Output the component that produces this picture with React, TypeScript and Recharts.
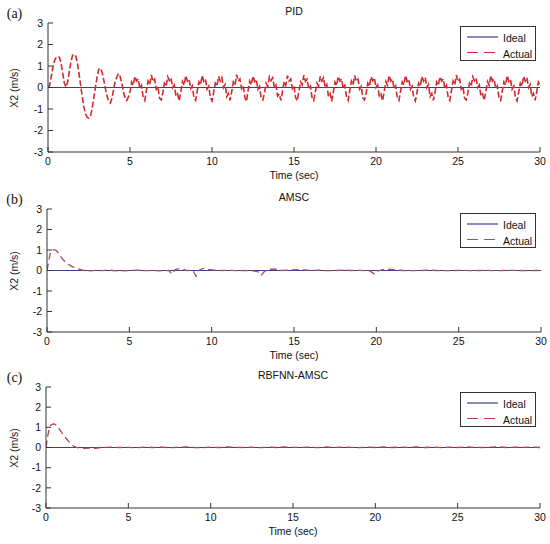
import React from 'react';
import { LineChart, Line, XAxis, YAxis } from 'recharts';

const TIME_TICKS = [0, 5, 10, 15, 20, 25, 30];
const X2_TICKS = [-3, -2, -1, 0, 1, 2, 3];
const STEP = 0.1; // sample spacing of the PID trace (s)

// PID start-up transient, t = 0.0 ... 4.9
const pidStart = [
  0, 0.1, 0.5, 0.95, 1.25, 1.4, 1.45, 1.4, 1.1, 0.65,
  0.2, 0.02, 0.25, 0.75, 1.2, 1.5, 1.55, 1.45, 1.1, 0.6,
  0.05, -0.5, -0.95, -1.25, -1.4, -1.42, -1.3, -0.95, -0.45, 0.05,
  0.5, 0.85, 0.9, 0.7, 0.35, -0.05, -0.4, -0.65, -0.72, -0.5,
  -0.1, 0.3, 0.5, 0.65, 0.5, 0.2, -0.2, -0.5, -0.6, -0.45,
];

// PID steady chatter, t = 5.0 ... 30.0 (one row ~ one period)
const pidSteady = [
  -0.2, 0.25, 0.1, 0.52, 0.3, 0.4, -0.05, 0.1, -0.45, -0.6,
  -0.15, 0.3, 0.12, 0.58, 0.28, 0.38, -0.08, 0.05, -0.5, -0.58,
  -0.25, 0.2, 0.05, 0.5, 0.32, 0.45, 0, 0.12, -0.4, -0.3, -0.62,
  -0.18, 0.28, 0.1, 0.55, 0.3, 0.4, -0.05, 0.08, -0.48, -0.6,
  -0.16, 0.26, 0.12, 0.56, 0.28, 0.38, -0.08, 0.06, -0.46, -0.62,
  -0.22, 0.2, 0.06, 0.52, 0.3, 0.46, 0, 0.14, -0.42, -0.28, -0.6,
  -0.2, 0.25, 0.1, 0.6, 0.3, 0.4, -0.05, 0.1, -0.45, -0.65,
  -0.15, 0.3, 0.12, 0.54, 0.28, 0.38, -0.08, 0.05, -0.5, -0.58,
  -0.25, 0.2, 0.05, 0.5, 0.32, 0.45, 0, 0.12, -0.4, -0.3, -0.6,
  -0.18, 0.28, 0.1, 0.55, 0.3, 0.4, -0.05, 0.08, -0.48, -0.62,
  -0.16, 0.26, 0.12, 0.58, 0.28, 0.38, -0.08, 0.06, -0.46, -0.6,
  -0.22, 0.2, 0.06, 0.52, 0.3, 0.46, 0, 0.14, -0.42, -0.28, -0.64,
  -0.2, 0.25, 0.1, 0.52, 0.3, 0.4, -0.05, 0.1, -0.45, -0.6,
  -0.15, 0.3, 0.12, 0.56, 0.28, 0.38, -0.08, 0.05, -0.5, -0.58,
  -0.25, 0.2, 0.05, 0.5, 0.32, 0.45, 0, 0.12, -0.4, -0.3, -0.62,
  -0.18, 0.28, 0.1, 0.55, 0.3, 0.4, -0.05, 0.08, -0.48, -0.6,
  -0.16, 0.26, 0.12, 0.56, 0.28, 0.38, -0.08, 0.06, -0.46, -0.62,
  -0.22, 0.2, 0.06, 0.52, 0.3, 0.46, 0, 0.14, -0.42, -0.28, -0.6,
  -0.2, 0.25, 0.1, 0.5, 0.3, 0.4, -0.05, 0.1, -0.45, -0.6,
  -0.15, 0.3, 0.12, 0.58, 0.28, 0.38, -0.08, 0.05, -0.5, -0.58,
  -0.25, 0.2, 0.05, 0.5, 0.32, 0.45, 0, 0.12, -0.4, -0.3, -0.6,
  -0.18, 0.28, 0.1, 0.55, 0.3, 0.4, -0.05, 0.08, -0.48, -0.6,
  -0.16, 0.26, 0.12, 0.56, 0.28, 0.38, -0.08, 0.06, -0.46, -0.62,
  -0.22, 0.2, 0.06, 0.52, 0.3, 0.46, 0, 0.14, -0.42, -0.28, -0.6,
  -0.2, 0.25, 0.1,
];

// AMSC response
const amscTime = [
  0, 0.1, 0.2, 0.3, 0.4, 0.55, 0.7, 0.9, 1.1, 1.3,
  1.5, 1.7, 1.9, 2.1, 2.3, 2.6, 3.0, 3.4, 3.7, 4.0,
  4.5, 5.0, 5.5, 6.0, 6.5, 7.0, 7.4, 7.6, 7.75, 7.9,
  8.2, 8.5, 8.85, 9.05, 9.2, 9.5, 9.8, 10.2, 10.6, 11.0,
  11.5, 12.0, 12.5, 12.8, 13.0, 13.2, 13.5, 13.9, 14.3, 14.7,
  15.2, 15.6, 16.0, 16.5, 17.0, 17.5, 18.0, 18.5, 19.0, 19.6,
  19.9, 20.1, 20.4, 20.8, 21.2, 21.7, 22.2, 22.7, 23.2, 23.7,
  24.2, 24.7, 25.2, 25.7, 26.2, 26.7, 27.2, 27.7, 28.2, 28.7,
  29.2, 29.6, 30.0,
];
const amscX2 = [
  0, 0.45, 0.85, 1.0, 1.02, 0.98, 0.85, 0.6, 0.42, 0.3,
  0.2, 0.14, 0.08, 0.03, 0, -0.02, 0.01, -0.01, 0.03, 0,
  -0.02, 0, 0.02, -0.01, 0, -0.02, 0, -0.18, 0.02, 0.08,
  0.08, 0, 0.02, -0.28, 0, 0.1, 0.05, 0.02, 0, 0.01,
  -0.01, 0, -0.02, -0.05, -0.24, -0.05, 0.06, 0.07, 0, 0.02,
  0.04, 0.03, 0, 0.02, -0.01, 0, 0.02, 0, 0.01, -0.02,
  -0.18, -0.02, 0.04, 0.06, 0.02, 0, -0.01, 0, 0.02, 0,
  -0.01, 0, 0.01, -0.01, 0, 0.01, -0.01, 0, 0.01, 0,
  -0.01, 0, 0,
];

// RBFNN-AMSC response
const rbfTime = [
  0, 0.1, 0.2, 0.3, 0.4, 0.5, 0.6, 0.7, 0.8,
  0.95, 1.1, 1.25, 1.4, 1.55, 1.7, 1.85, 2.0,
  2.3, 2.6, 3.0, 3.3, 3.6, 4.0,
  4.5, 5.0, 5.5, 6.0, 6.5, 7.0, 7.5, 8.0, 8.5, 9.0,
  9.5, 10.0, 10.5, 11.0, 11.5, 12.0, 12.5, 13.0, 13.5, 14.0,
  14.5, 15.0, 15.5, 16.0, 16.5, 17.0, 17.5, 18.0, 18.5, 19.0,
  19.5, 20.0, 20.5, 21.0, 21.5, 22.0, 22.5, 23.0, 23.5, 24.0,
  24.5, 25.0, 25.5, 26.0, 26.5, 27.0, 27.5, 28.0, 28.5, 29.0,
  29.5, 30.0,
];
const rbfX2 = [
  0, 0.55, 0.95, 1.12, 1.16, 1.17, 1.12, 1.02, 0.92,
  0.75, 0.58, 0.42, 0.28, 0.15, 0.06, 0.01, -0.02,
  -0.04, -0.03, -0.04, 0, 0.01, 0.02,
  0, 0.01, -0.01, 0.02, 0, 0.02, -0.01, 0.01, 0.03, 0,
  -0.01, 0.02, 0, 0.03, 0.01, 0, 0.02, -0.01, 0.02, 0,
  0.03, 0.01, 0, 0.02, -0.01, 0.03, 0, 0.02, 0.01, -0.01,
  0.02, 0, 0.03, 0, 0.02, 0.01, 0.03, 0, 0.02, -0.01,
  0.02, 0, 0.03, 0.01, 0, 0.02, 0.03, 0, 0.02, 0.01,
  0.02, 0,
];

const idealTime = [0, 30];
const idealX2 = [0, 0];

const pidData = [...pidStart, ...pidSteady].map((v, i) => ({ t: +(i * STEP).toFixed(2), x2: v }));
const amscData = amscTime.map((t, i) => ({ t, x2: amscX2[i] }));
const rbfData = rbfTime.map((t, i) => ({ t, x2: rbfX2[i] }));
const idealData = idealTime.map((t, i) => ({ t, x2: idealX2[i] }));

const SANS = '"Liberation Sans", Arial, sans-serif';
const AXIS = '#333';
const IDEAL = '#3d3d94';

const centered = (x: number, y: number, extra: React.CSSProperties = {}): React.CSSProperties => ({
  position: 'absolute',
  left: x,
  top: y,
  transform: 'translate(-50%, -50%)',
  whiteSpace: 'nowrap',
  lineHeight: 1,
  fontFamily: SANS,
  fontSize: 10.5,
  color: '#111',
  ...extra,
});

const Legend = ({ left, top, color }: { left: number; top: number; color: string }) => (
  <div
    style={{
      position: 'absolute', left, top, width: 76, height: 35,
      border: `1px solid ${AXIS}`, background: '#fff', boxSizing: 'border-box',
    }}
  >
    <svg width={40} height={33} style={{ position: 'absolute', left: 0, top: 0 }}>
      <line x1={6} x2={37} y1={10} y2={10} stroke={IDEAL} strokeWidth={1.2} />
      <line x1={6} x2={37} y1={25.5} y2={25.5} stroke={color} strokeWidth={1.2} strokeDasharray="11 6" />
    </svg>
    <div style={{ position: 'absolute', left: 42, top: 4, fontFamily: SANS, fontSize: 10.5, lineHeight: '15.5px', color: '#111' }}>
      Ideal<br />Actual
    </div>
  </div>
);

interface PanelProps {
  top: number;
  height: number;
  margin: { top: number; right: number; bottom: number; left: number };
  yWidth: number;
  tag: string;
  title: string;
  data: { t: number; x2: number }[];
  color: string;
  width: number;
  dash: string;
  legendTop: number;
}

const Panel = ({ top, height, margin, yWidth, tag, title, data, color, width, dash, legendTop }: PanelProps) => {
  const plotTop = margin.top;
  const plotBottom = height - margin.bottom - 22;
  const plotLeft = margin.left + yWidth;
  const plotRight = 550 - margin.right;
  const cx = (plotLeft + plotRight) / 2;
  const tickStyle = { fill: '#111', fontSize: 10.5, fontFamily: SANS };
  return (
    <div style={{ position: 'absolute', left: 0, top, width: 550, height }}>
      <LineChart width={550} height={height} margin={margin}>
        <XAxis
          xAxisId="b" dataKey="t" type="number" domain={[0, 30]} ticks={TIME_TICKS} interval={0}
          allowDataOverflow height={22} tickSize={-5} tickMargin={11} stroke={AXIS} tick={tickStyle}
        />
        <XAxis
          xAxisId="top" orientation="top" type="number" domain={[0, 30]} ticks={TIME_TICKS} interval={0}
          height={0} tickSize={-5} tick={false} stroke={AXIS}
        />
        <YAxis
          yAxisId="l" type="number" domain={[-3, 3]} ticks={X2_TICKS} interval={0}
          allowDataOverflow width={yWidth} tickSize={-5} tickMargin={10} stroke={AXIS} tick={tickStyle}
        />
        <YAxis
          yAxisId="r" orientation="right" type="number" domain={[-3, 3]} ticks={X2_TICKS} interval={0}
          width={0} tickSize={-5} tick={false} stroke={AXIS}
        />
        <Line
          xAxisId="b" yAxisId="l" data={idealData} dataKey="x2" stroke={IDEAL} strokeWidth={1.2}
          dot={false} isAnimationActive={false}
        />
        <Line
          xAxisId="b" yAxisId="l" data={data} dataKey="x2" stroke={color} strokeWidth={width}
          strokeDasharray={dash} dot={false} isAnimationActive={false}
        />
      </LineChart>
      <div style={centered(14.5, plotTop - 9, { fontFamily: '"Liberation Serif", "Times New Roman", serif', fontSize: 14 })}>
        {tag}
      </div>
      <div style={centered(cx, plotTop - 12)}>{title}</div>
      <div style={centered(cx, plotBottom + 23)}>Time (sec)</div>
      <div style={centered(14, (plotTop + plotBottom) / 2, { transform: 'translate(-50%, -50%) rotate(-90deg)' })}>
        X2 (m/s)
      </div>
      <Legend left={460} top={legendTop} color={color} />
    </div>
  );
};

export default function App() {
  return (
    <div style={{ position: 'absolute', left: 0, top: 0, width: 550, height: 544, background: '#fff', overflow: 'hidden' }}>
      <Panel
        top={0} height={180} margin={{ top: 23, right: 10, bottom: 6, left: 0 }} yWidth={48}
        tag="(a)" title="PID" data={pidData} color="#d02a2e" width={1.6} dash="6 2.5" legendTop={26}
      />
      <Panel
        top={180} height={180} margin={{ top: 29, right: 9, bottom: 6, left: 0 }} yWidth={47}
        tag="(b)" title="AMSC" data={amscData} color="#a8506a" width={1.3} dash="7 4" legendTop={33}
      />
      <Panel
        top={360} height={184} margin={{ top: 27, right: 10, bottom: 14, left: 0 }} yWidth={46}
        tag="(c)" title="RBFNN-AMSC" data={rbfData} color="#b8404a" width={1.3} dash="7 4" legendTop={32}
      />
    </div>
  );
}
